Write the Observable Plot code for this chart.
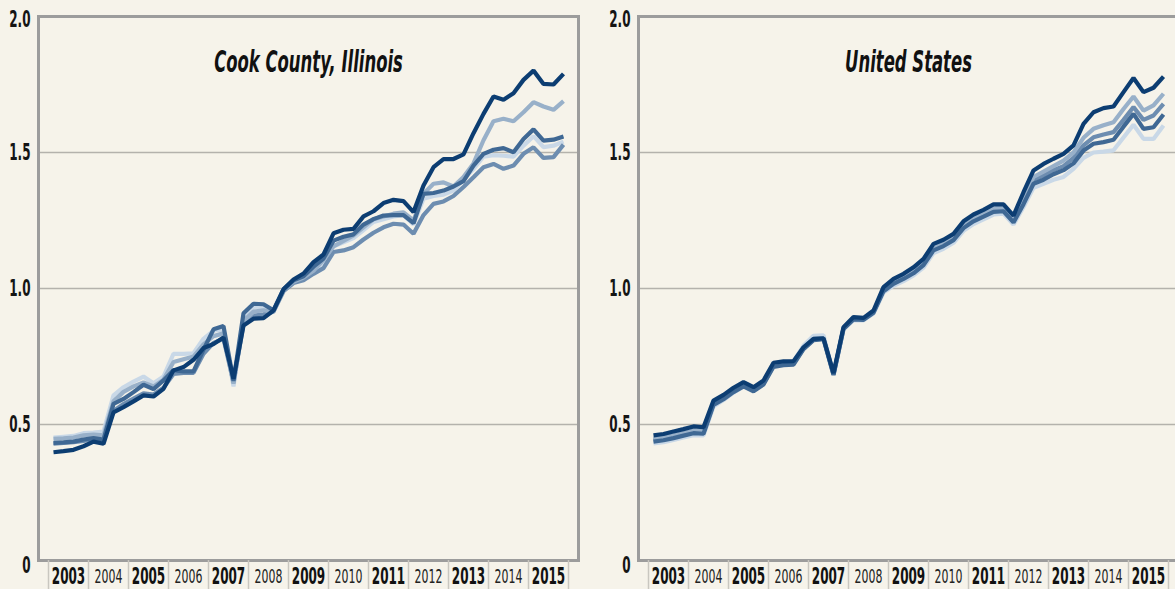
<!DOCTYPE html>
<html><head><meta charset="utf-8">
<script src="https://cdn.jsdelivr.net/npm/d3@7"></script>
<script src="https://cdn.jsdelivr.net/npm/@observablehq/plot@0.6"></script>
<style>
html,body{margin:0;padding:0;background:#f6f3ea;}
#wrap{width:1175px;height:589px;overflow:hidden;display:flex;}
#wrap svg{flex:0 0 auto;max-width:none;}
</style></head><body><div id="wrap"></div>
<script>
// ---- data ----
const years = [2003,2004,2005,2006,2007,2008,2009,2010,2011,2012,2013,2014,2015];
const boldYears = [2003,2005,2007,2009,2011,2013,2015];
const plainYears = [2004,2006,2008,2010,2012,2014];
const yTicks = [0, 0.5, 1, 1.5, 2];
const yTickLabels = ["0", "0.5", "1.0", "1.5", "2.0"];
const panelTitles = ["Cook County, Illinois", "United States"];
const seriesNames = ["A", "B", "C", "D", "E"];
const seriesColors = ["#0c3d72", "#98b0c9", "#6d8db0", "#3f6894", "#c9d8e7"];
const drawOrder = ["E", "C", "B", "D", "A"];

// quarterly values, 2003 Q1 .. 2015 Q4
const cookA = [0.398,0.402,0.407,0.42,0.437,0.429,0.545,0.564,0.585,0.607,0.603,0.631,0.699,0.711,0.738,0.781,0.796,0.82,0.668,0.864,0.889,0.891,0.919,0.997,1.033,1.055,1.097,1.125,1.203,1.216,1.219,1.265,1.284,1.314,1.326,1.321,1.281,1.379,1.446,1.476,1.476,1.493,1.571,1.642,1.706,1.694,1.718,1.767,1.801,1.752,1.75,1.789];
const cookB = [0.447,0.449,0.452,0.46,0.463,0.46,0.585,0.62,0.64,0.655,0.64,0.665,0.73,0.74,0.75,0.795,0.825,0.835,0.65,0.88,0.915,0.92,0.915,0.995,1.025,1.04,1.065,1.105,1.155,1.175,1.195,1.225,1.255,1.265,1.275,1.28,1.25,1.348,1.385,1.39,1.375,1.41,1.46,1.545,1.615,1.624,1.615,1.648,1.685,1.669,1.657,1.689];
const cookC = [0.43,0.432,0.435,0.44,0.447,0.44,0.55,0.575,0.595,0.615,0.61,0.635,0.686,0.69,0.69,0.76,0.8,0.815,0.655,0.87,0.9,0.905,0.915,0.99,1.02,1.03,1.054,1.075,1.134,1.14,1.152,1.18,1.205,1.225,1.238,1.235,1.201,1.27,1.311,1.32,1.34,1.373,1.409,1.446,1.458,1.44,1.452,1.495,1.519,1.48,1.483,1.529];
const cookD = [0.432,0.434,0.437,0.445,0.45,0.445,0.576,0.594,0.619,0.646,0.63,0.662,0.7,0.695,0.695,0.775,0.85,0.862,0.66,0.909,0.944,0.942,0.92,0.997,1.03,1.045,1.08,1.11,1.176,1.19,1.199,1.235,1.255,1.268,1.27,1.27,1.24,1.348,1.351,1.36,1.375,1.395,1.452,1.495,1.51,1.516,1.501,1.55,1.585,1.544,1.547,1.559];
const cookE = [0.452,0.455,0.458,0.468,0.47,0.474,0.607,0.637,0.658,0.676,0.652,0.676,0.76,0.76,0.762,0.815,0.845,0.85,0.64,0.895,0.93,0.932,0.92,0.998,1.025,1.04,1.06,1.1,1.155,1.17,1.185,1.215,1.245,1.255,1.265,1.27,1.235,1.33,1.34,1.345,1.36,1.4,1.44,1.485,1.49,1.488,1.485,1.525,1.56,1.52,1.525,1.54];

const usA = [0.46,0.465,0.474,0.483,0.493,0.49,0.588,0.609,0.635,0.656,0.637,0.662,0.727,0.732,0.733,0.784,0.815,0.817,0.689,0.858,0.895,0.892,0.919,1.005,1.035,1.054,1.078,1.109,1.164,1.179,1.201,1.247,1.272,1.289,1.309,1.309,1.268,1.354,1.434,1.458,1.477,1.495,1.526,1.605,1.648,1.663,1.669,1.722,1.774,1.722,1.738,1.779];
const usB = [0.447,0.452,0.46,0.469,0.478,0.476,0.58,0.601,0.627,0.648,0.63,0.655,0.72,0.726,0.728,0.782,0.815,0.818,0.686,0.855,0.89,0.889,0.915,0.998,1.027,1.045,1.068,1.098,1.152,1.168,1.19,1.235,1.26,1.276,1.295,1.297,1.258,1.33,1.41,1.43,1.45,1.47,1.5,1.554,1.587,1.6,1.611,1.66,1.706,1.654,1.673,1.716];
const usC = [0.442,0.447,0.455,0.464,0.473,0.471,0.576,0.597,0.623,0.644,0.626,0.651,0.716,0.722,0.724,0.779,0.812,0.816,0.684,0.853,0.888,0.887,0.913,0.994,1.022,1.04,1.062,1.092,1.146,1.162,1.184,1.228,1.253,1.27,1.288,1.29,1.25,1.32,1.4,1.415,1.435,1.45,1.48,1.526,1.556,1.566,1.575,1.62,1.667,1.62,1.636,1.679];
const usD = [0.437,0.442,0.45,0.459,0.468,0.466,0.572,0.593,0.619,0.64,0.622,0.647,0.712,0.718,0.72,0.777,0.81,0.814,0.682,0.851,0.886,0.885,0.911,0.99,1.017,1.035,1.056,1.086,1.14,1.156,1.178,1.222,1.247,1.264,1.282,1.284,1.243,1.31,1.385,1.4,1.42,1.435,1.46,1.507,1.532,1.538,1.547,1.595,1.642,1.587,1.593,1.64];
const usE = [0.43,0.435,0.443,0.452,0.461,0.46,0.566,0.59,0.617,0.64,0.625,0.652,0.72,0.728,0.732,0.79,0.826,0.828,0.684,0.85,0.884,0.883,0.908,0.985,1.01,1.027,1.048,1.077,1.13,1.146,1.168,1.212,1.237,1.254,1.272,1.275,1.235,1.3,1.37,1.385,1.4,1.41,1.44,1.48,1.5,1.503,1.508,1.555,1.602,1.55,1.55,1.599];

// ---- build ----
const FONT = '"Liberation Sans Narrow", "DejaVu Sans Condensed", "DejaVu Sans", sans-serif';
const cook = {A: cookA, B: cookB, C: cookC, D: cookD, E: cookE};
const us = {A: usA, B: usB, C: usC, D: usD, E: usE};

function toRows(set) {
  const rows = [];
  for (const s of drawOrder) {
    set[s].forEach((v, i) => rows.push({series: s, t: years[0] + i / 4, value: v}));
  }
  return rows;
}

const fmtY = d => yTickLabels[yTicks.indexOf(d)];
const yAxisStyle = {tickSize: 0, tickPadding: 8, fontSize: 23, fontWeight: "bold", fill: "#151515", tickFormat: fmtY, label: null, className: "ylab"};

function panel(title, set, width, marginLeft, marginRight) {
  const boundaries = years.map(y => y - 0.125).concat([years[years.length - 1] + 0.875]);
  return Plot.plot({
    width, height: 589,
    marginLeft, marginRight, marginTop: 16, marginBottom: 29,
    style: {background: "transparent", fontFamily: FONT, overflow: "visible"},
    x: {domain: [years[0] - 0.375, years[years.length - 1] + 1.125], axis: null},
    y: {domain: [0, 2], axis: null},
    color: {domain: seriesNames, range: seriesColors},
    marks: [
      Plot.ruleY(yTicks.filter(d => d > 0 && d < 2), {stroke: "#b4b2ac", strokeWidth: 1.5}),
      Plot.line(toRows(set), {x: "t", y: "value", z: "series", stroke: "series", strokeWidth: 4.2, strokeLinejoin: "miter", strokeLinecap: "butt"}),
      Plot.frame({stroke: "#9c9c9c", strokeWidth: 3}),
      Plot.axisY(yTicks.filter(d => d > 0 && d < 2), yAxisStyle),
      Plot.axisY(yTicks.filter(d => d === 2), {...yAxisStyle, dy: 3}),
      Plot.axisY(yTicks.filter(d => d === 0), {...yAxisStyle, dy: 5}),
      Plot.axisX(boundaries, {tickSize: 29, stroke: "#c9c7c0", strokeWidth: 1.5, fill: "none", label: null}),
      Plot.text(boldYears, {x: d => d + 0.375, frameAnchor: "bottom", lineAnchor: "middle", dy: 16, text: d => String(d),
        fontSize: 23, fontWeight: "bold", fill: "#111", className: "ybold"}),
      Plot.text(plainYears, {x: d => d + 0.375, frameAnchor: "bottom", lineAnchor: "middle", dy: 16.5, text: d => String(d),
        fontSize: 19, fill: "#222", className: "yplain"}),
      Plot.text([title], {frameAnchor: "top", lineAnchor: "middle", dy: 46, text: d => d, fontSize: 30, fontWeight: "bold",
        fontStyle: "italic", fill: "#111", className: "ttl"})
    ]
  });
}

// narrow the installed font horizontally to the condensed look of the original
function condense(svg, cls, k) {
  svg.querySelectorAll("." + cls + " text, text." + cls).forEach(t => {
    const tr = t.getAttribute("transform") || "";
    const xa = t.getAttribute("x");
    let pre = "";
    if (xa !== null && /^-?[\d.]+$/.test(xa)) { pre = `translate(${xa},0)`; t.removeAttribute("x"); }
    t.setAttribute("transform", `${tr} ${pre} scale(${k},1)`.trim());
  });
}

const wrap = document.getElementById("wrap");
const svgs = [panel(panelTitles[0], cook, 598, 38, 20), panel(panelTitles[1], us, 580, 40, 0)];
for (const s of svgs) {
  wrap.appendChild(s);
  condense(s, "ylab", 0.58);
  condense(s, "ybold", 0.58);
  condense(s, "yplain", 0.64);
  condense(s, "ttl", 0.61);
}
</script>
</body></html>
